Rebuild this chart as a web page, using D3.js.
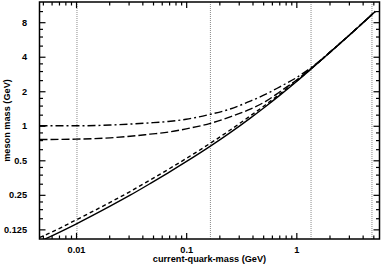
<!DOCTYPE html>
<html>
<head>
<meta charset="utf-8">
<script src="https://cdn.jsdelivr.net/npm/d3@7"></script>
<style>
  body { margin: 0; background: #fff; }
  svg text { font-family: "Liberation Sans", Arial, sans-serif; font-weight: bold; font-size: 9.2px; fill: #000; }
</style>
</head>
<body>
<svg id="chart" width="382" height="264"></svg>
<script>
// current-quark-mass (GeV) sample points
var quarkMass = [0.00466, 0.005, 0.01, 0.0204, 0.031, 0.047, 0.0686, 0.1, 0.166, 0.251, 0.382, 0.523, 0.715, 1.0, 1.34, 2.04, 3.1, 4.88, 5.23];

// meson masses (GeV) for each curve
var solidMass     = [0.098, 0.101, 0.139, 0.199, 0.248, 0.313, 0.389, 0.486, 0.664, 0.871, 1.167, 1.467, 1.860, 2.423, 3.084, 4.395, 6.29, 9.36, 9.94];
var shortDashMass = [0.106, 0.109, 0.151, 0.215, 0.267, 0.336, 0.416, 0.518, 0.705, 0.918, 1.220, 1.518, 1.905, 2.452, 3.10, 4.41, 6.30, 9.37, 9.95];
var longDashMass  = [0.76, 0.76, 0.765, 0.785, 0.81, 0.845, 0.88, 0.94, 1.05, 1.196, 1.398, 1.625, 1.99, 2.497, 3.12, 4.41, 6.30, 9.37, 9.95];
var dashDotMass   = [1.0, 1.0, 1.0, 1.015, 1.035, 1.06, 1.09, 1.14, 1.26, 1.40, 1.642, 1.874, 2.197, 2.624, 3.18, 4.43, 6.30, 9.37, 9.95];

// dotted reference lines (u/d, s, c, b current-quark masses)
var flavourMass = [0.0102, 0.166, 1.36, 4.86];

var xTicks = [0.01, 0.1, 1];
var xTickLabels = ["0.01", "0.1", "1"];
var yTicks = [0.125, 0.25, 0.5, 1, 2, 4, 8];
var yTickLabels = ["0.125", "0.25", "0.5", "1", "2", "4", "8"];
var yMinorTicks = [0.15625, 0.1875, 0.21875, 0.3125, 0.375, 0.4375, 0.625, 0.75, 0.875,
                   1.25, 1.5, 1.75, 2.5, 3, 3.5, 5, 6, 7, 10];

var margin = {top: 2, right: 2.5, bottom: 25, left: 39.5};
var width = 382 - margin.left - margin.right;
var height = 264 - margin.top - margin.bottom;

var svg = d3.select('#chart');
var g = svg.append('g')
  .attr('transform', 'translate(' + margin.left + ',' + margin.top + ')');

var x = d3.scaleLog().domain([0.00466, 5.69]).range([0, width]);
var y = d3.scaleLog().base(2).domain([0.103, 12]).range([height, 0]);

var xMinor = x.ticks().filter(function(d){ return xTicks.indexOf(d) < 0; });

svg.append('clipPath').attr('id', 'plotclip')
  .append('rect').attr('width', width).attr('height', height);

// reference lines
g.selectAll('.flavour')
  .data(flavourMass)
  .enter()
  .append('line')
  .attr('class', 'flavour')
  .attr('x1', function(d){ return x(d); })
  .attr('x2', function(d){ return x(d); })
  .attr('y1', 0)
  .attr('y2', height)
  .attr('stroke', '#8a8a8a')
  .attr('stroke-width', 1)
  .attr('stroke-dasharray', '1,1');

// axes, ticks pointing inward
function styleAxis(sel){
  sel.select('.domain').remove();
  sel.selectAll('line').attr('stroke', '#000').attr('stroke-width', 1.2);
}

g.append('g').attr('transform', 'translate(0,' + height + ')')
  .call(d3.axisBottom(x).tickValues(xTicks).tickSize(-6).tickPadding(7)
    .tickFormat(function(d,i){ return xTickLabels[i]; }))
  .call(styleAxis);
g.append('g').attr('transform', 'translate(0,' + height + ')')
  .call(d3.axisBottom(x).tickValues(xMinor).tickSize(-3.5).tickFormat(''))
  .call(styleAxis);
g.append('g')
  .call(d3.axisTop(x).tickValues(xTicks).tickSize(-6).tickFormat(''))
  .call(styleAxis);
g.append('g')
  .call(d3.axisTop(x).tickValues(xMinor).tickSize(-3.5).tickFormat(''))
  .call(styleAxis);

g.append('g')
  .call(d3.axisLeft(y).tickValues(yTicks).tickSize(-6).tickPadding(12.5)
    .tickFormat(function(d,i){ return yTickLabels[i]; }))
  .call(styleAxis);
g.append('g')
  .call(d3.axisLeft(y).tickValues(yMinorTicks).tickSize(-3.5).tickFormat(''))
  .call(styleAxis);
g.append('g').attr('transform', 'translate(' + width + ',0)')
  .call(d3.axisRight(y).tickValues(yTicks).tickSize(-6).tickFormat(''))
  .call(styleAxis);
g.append('g').attr('transform', 'translate(' + width + ',0)')
  .call(d3.axisRight(y).tickValues(yMinorTicks).tickSize(-3.5).tickFormat(''))
  .call(styleAxis);

g.selectAll('.tick text')
  .attr('font-family', '"Liberation Sans", Arial, sans-serif')
  .attr('font-weight', 'bold')
  .attr('font-size', 9.2);

// curves
var series = [
  {values: solidMass, dash: null},
  {values: shortDashMass, dash: '4,3'},
  {values: longDashMass, dash: '8,3'},
  {values: dashDotMass, dash: '8,3,2,3'}
];

var line = d3.line()
  .x(function(d){ return x(d[0]); })
  .y(function(d){ return y(d[1]); })
  .curve(d3.curveMonotoneX);

g.append('g').attr('clip-path', 'url(#plotclip)')
  .selectAll('.curve')
  .data(series)
  .enter()
  .append('path')
  .attr('class', 'curve')
  .attr('d', function(s){ return line(quarkMass.map(function(q,i){ return [q, s.values[i]]; })); })
  .attr('fill', 'none')
  .attr('stroke', '#000')
  .attr('stroke-width', 1.4)
  .attr('stroke-dasharray', function(s){ return s.dash; });

// frame
g.append('rect')
  .attr('width', width)
  .attr('height', height)
  .attr('fill', 'none')
  .attr('stroke', '#000')
  .attr('stroke-width', 1.5);

// axis titles
svg.append('text')
  .attr('x', margin.left + width / 2)
  .attr('y', 261.5)
  .attr('text-anchor', 'middle')
  .text('current-quark-mass (GeV)');

svg.append('text')
  .attr('transform', 'translate(10,' + (margin.top + height / 2) + ') rotate(-90)')
  .attr('text-anchor', 'middle')
  .text('meson mass (GeV)');
</script>
</body>
</html>
